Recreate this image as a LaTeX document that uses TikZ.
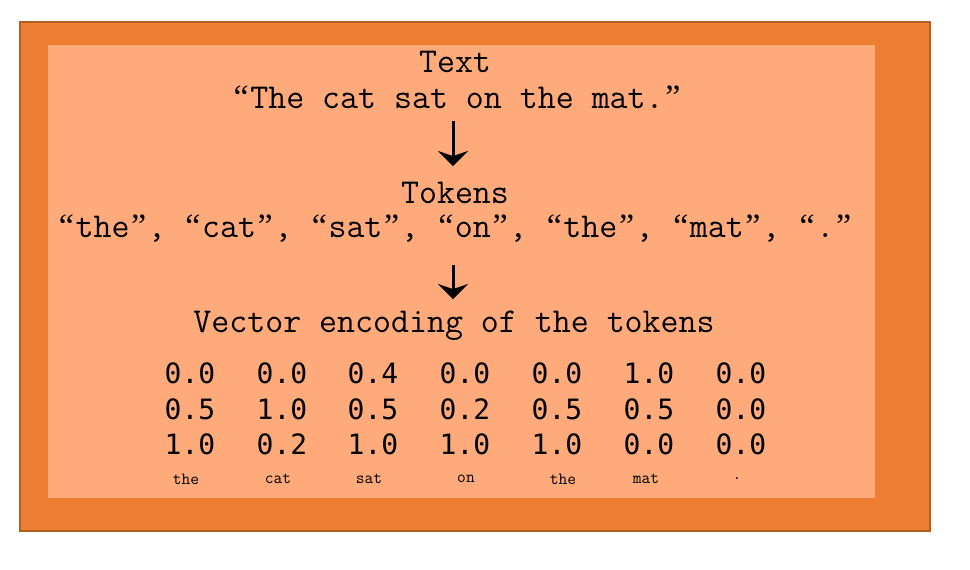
\documentclass[tikz,border=0pt]{standalone}
\usepackage{fontspec}
\newfontfamily\vecfont{DejaVu Sans Mono}
\newfontfamily\quotefont{Liberation Serif}
\usetikzlibrary{arrows.meta,positioning}
\definecolor{frameOrange}{HTML}{ED7D31}
\definecolor{frameEdge}{HTML}{B0601F}
\definecolor{panelPeach}{HTML}{FEAA7A}
\tikzset{
  heading/.style={font=\ttfamily\fontsize{34.9}{36}\selectfont, inner sep=0pt, text=black},
  vecnum/.style={font=\vecfont\fontsize{28}{30}\selectfont, inner sep=0pt, text=black},
  toklabel/.style={font=\ttfamily\fontsize{17}{18}\selectfont, inner sep=0pt, text=black},
  step arrow/.style={-{Stealth[length=15pt,width=30pt,inset=5pt]}, line width=3pt, draw=black}
}
% curly quotes, one typewriter cell wide
\newcommand{\oq}{\makebox[18.3pt]{\quotefont\fontsize{34}{36}\selectfont“}}
\newcommand{\cq}{\makebox[18.3pt]{\quotefont\fontsize{34}{36}\selectfont”}}
\begin{document}
\begin{tikzpicture}[x=1pt,y=-1pt]
  \useasboundingbox (0,0) rectangle (970,570);
  \fill[frameOrange, draw=frameEdge, line width=1.5pt] (20,22) rectangle (930,531);
  \fill[panelPeach] (48,45) rectangle (875,498);

  % headings
  \node[heading] (texthead) at (455,62) {Text};
  \node[heading] (sentence) at (457,97) {\oq The cat sat on the mat.\cq};
  \node[heading] (tokhead) at (455,193) {Tokens};
  \node[heading] (toklist) at (455,229)
    {\oq the\cq, \oq cat\cq, \oq sat\cq, \oq on\cq, \oq the\cq, \oq mat\cq, \oq .\cq};
  \node[heading] (vechead) at (454,326) {Vector encoding of the tokens};

  \draw[step arrow, shorten <=12pt, shorten >=16pt]
    ([xshift=-4pt]sentence.south) -- ([xshift=-2pt]tokhead.north);
  \draw[step arrow, shorten <=22pt, shorten >=12pt]
    ([xshift=-2pt]toklist.south) -- ([xshift=-1pt]vechead.north);

  % vectors, one column per token
  \foreach \i/\x/\a/\b/\c/\w/\wx in {1/190/0.0/0.5/1.0/the/186, 2/282/0.0/1.0/0.2/cat/278,
      3/373/0.4/0.5/1.0/sat/369, 4/465/0.0/0.2/1.0/on/466, 5/557/0.0/0.5/1.0/the/563,
      6/649/1.0/0.5/0.0/mat/646, 7/741/0.0/0.0/0.0/./737}{
    \node[vecnum] (v\i a) at (\x,373) {\a};
    \node[vecnum] (v\i b) at (\x,409) {\b};
    \node[vecnum] (v\i c) at (\x,444) {\c};
    \node[toklabel] (w\i) at (\wx,479) {\w};
  }
\end{tikzpicture}
\end{document}
